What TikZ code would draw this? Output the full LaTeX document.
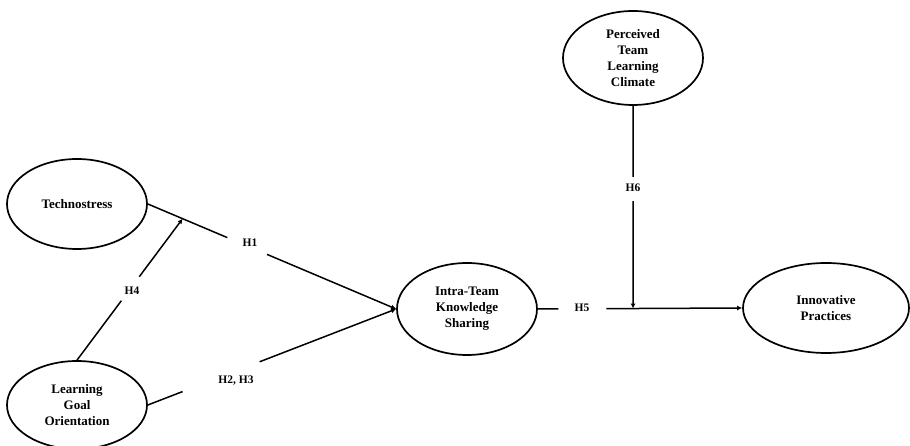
\documentclass[tikz,border=0pt]{standalone}
\usepackage{fontspec}
\setmainfont{Liberation Serif}
\usetikzlibrary{shapes.geometric,arrows.meta,calc}
\begin{document}
\begin{tikzpicture}[x=1pt,y=1pt,
  latent/.style={ellipse,draw=black,line width=1.7pt,align=center,inner sep=0pt,
    font=\fontsize{13}{16}\selectfont\bfseries},
  conn/.style={line width=1.5pt},
  arr/.style={line width=1.5pt,-{Latex[length=5pt,width=5pt]}},
  hlab/.style={font=\fontsize{11.5}{13}\selectfont\bfseries,inner sep=0pt}]
\useasboundingbox (0,0) rectangle (910,446);
\node[latent,minimum width=140pt,minimum height=90pt] (tech) at (77,242) {Technostress};
\node[latent,minimum width=140pt,minimum height=88pt] (lgo) at (77,41) {Learning\\Goal\\Orientation};
\node[latent,minimum width=140pt,minimum height=92pt] (its) at (467,137) {Intra-Team\\Knowledge\\Sharing};
\node[latent,minimum width=166pt,minimum height=90pt] (ip) at (826,138) {Innovative\\Practices};
\node[latent,minimum width=140pt,minimum height=94pt] (ptlc) at (633,388) {Perceived\\Team\\Learning\\Climate};
% H1
\coordinate (g1a) at ($(tech.east)!0.32!(its.west)$);
\coordinate (g1b) at ($(tech.east)!0.48!(its.west)$);
\coordinate (m4) at ($(tech.east)!0.14!(its.west)$);
\draw[conn] (tech.east) -- (g1a);
\draw[arr] (g1b) -- (its.west);
\node[hlab] (h1) at (250,203) {H1};
% H2, H3
\coordinate (g2a) at ($(lgo.east)!0.14!(its.west)$);
\coordinate (g2b) at ($(lgo.east)!0.45!(its.west)$);
\draw[conn] (lgo.east) -- (g2a);
\draw[arr] (g2b) -- (its.west);
\node[hlab] (h23) at (236,65) {H2, H3};
% H4
\coordinate (g4a) at ($(lgo.north)!0.42!(m4)$);
\coordinate (g4b) at ($(lgo.north)!0.59!(m4)$);
\draw[conn] (lgo.north) -- (g4a);
\draw[arr] (g4b) -- (m4);
\node[hlab] (h4) at (132,155) {H4};
% H5
\coordinate (g5a) at ($(its.east)!0.10!(ip.west)$);
\coordinate (g5b) at ($(its.east)!0.335!(ip.west)$);
\coordinate (m6) at ($(its.east)!0.466!(ip.west)$);
\draw[conn] (its.east) -- (g5a);
\draw[arr] (g5b) -- (ip.west);
\node[hlab] (h5) at (582,138) {H5};
% H6
\coordinate (g6a) at ($(ptlc.south)!0.35!(m6)$);
\coordinate (g6b) at ($(ptlc.south)!0.47!(m6)$);
\draw[conn] (ptlc.south) -- (g6a);
\draw[arr] (g6b) -- (m6);
\node[hlab] (h6) at (633,258) {H6};
\end{tikzpicture}
\end{document}
